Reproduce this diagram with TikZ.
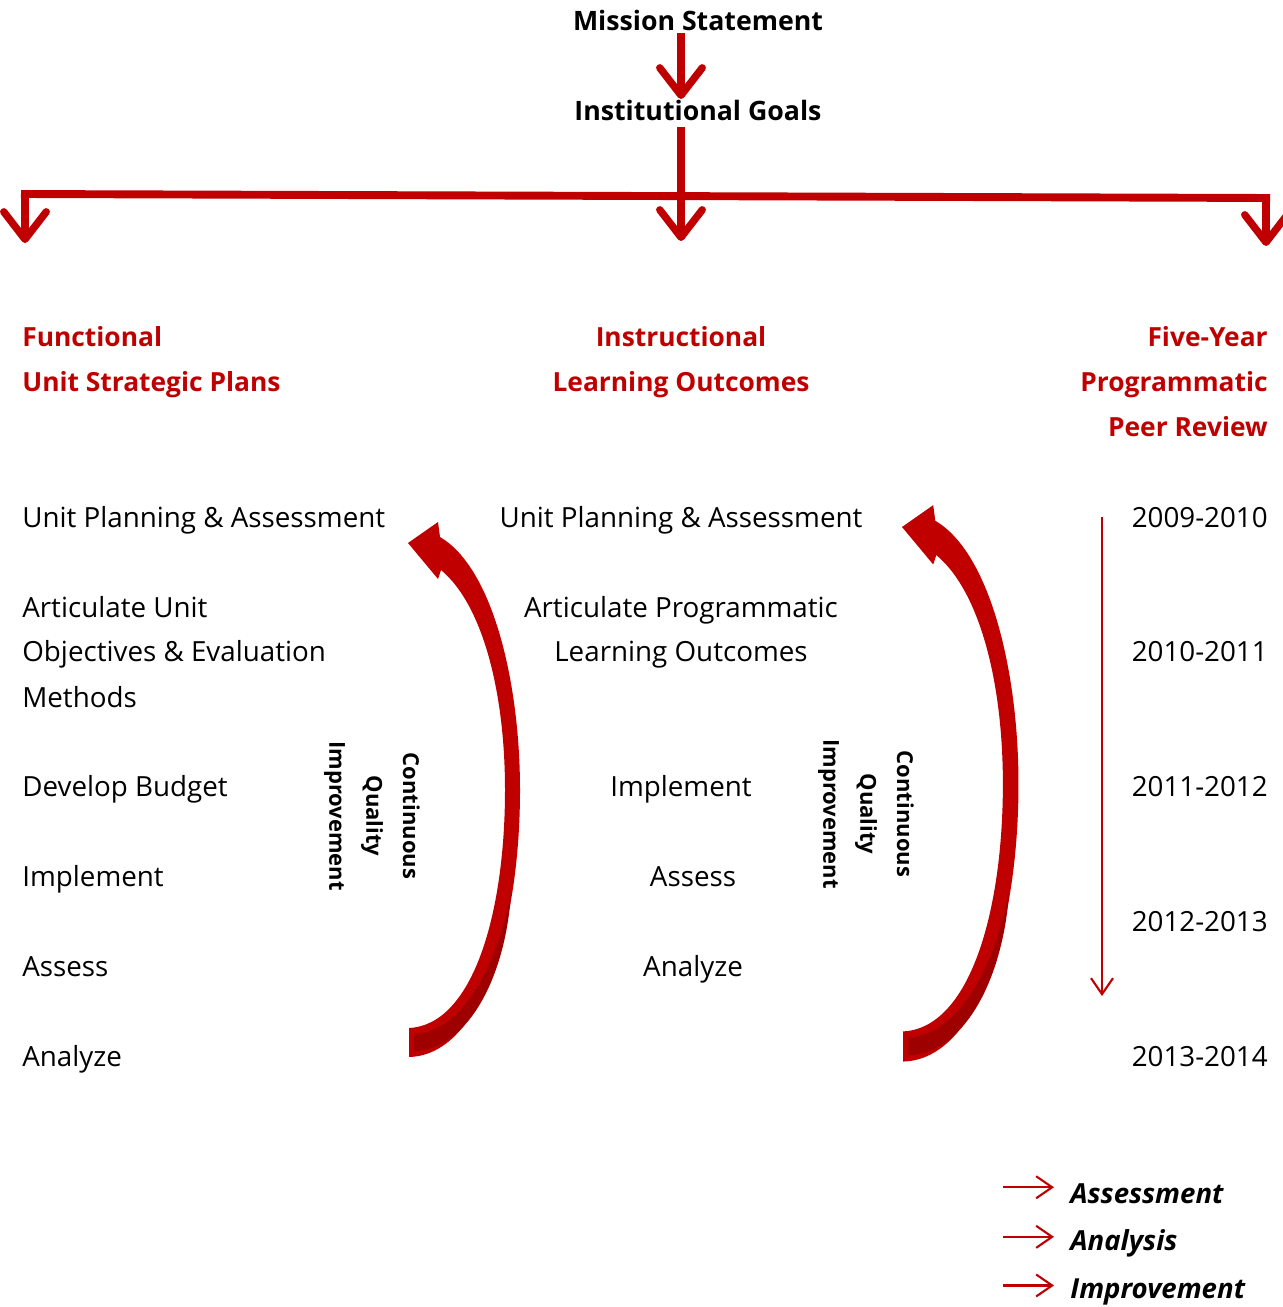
\documentclass[tikz,border=0pt]{standalone}
\usepackage{fontspec}
\setmainfont{Open Sans}
\usetikzlibrary{arrows.meta,positioning,calc}
\definecolor{PlanRed}{RGB}{192,0,0}
\definecolor{PlanDarkRed}{RGB}{158,0,0}

\tikzset{
  body/.style={inner sep=0pt, font=\fontsize{15.8}{18}\selectfont},
  head/.style={inner sep=0pt, font=\fontsize{15}{18}\selectfont\bfseries, PlanRed},
  top/.style={inner sep=0pt, font=\fontsize{15.2}{18}\selectfont\bfseries},
  legend/.style={inner sep=0pt, font=\fontsize{15.7}{18}\selectfont\bfseries\itshape},
  loop text/.style={inner sep=0pt, align=center, rotate=-90,
    font=\fontsize{12.5}{21}\selectfont\bfseries},
  stem/.style={PlanRed, line width=4.2pt},
  trunk/.style={stem, -{Straight Barb[length=5.5mm, width=8.5mm, round]}},
  bar/.style={PlanRed, line width=4.5pt},
  thin arrow/.style={PlanRed, line width=1.2pt, -{Straight Barb[length=3.2mm, width=4.4mm]}}
}

\begin{document}
\begin{tikzpicture}[x=0.02cm, y=-0.02cm]
  \useasboundingbox (0,0) rectangle (1282,1307);

  % Top of the tree
  \node[top, anchor=base] (ms) at (698,31) {Mission Statement};
  \node[top, anchor=base] (ig) at (698,121) {Institutional Goals};
  \coordinate (spine) at (681,0);
  \coordinate (goalTip) at (681,99);
  \draw[trunk] ([yshift=-1pt]ms.south -| spine) -- (goalTip);

  % Branches
  \coordinate (barL) at (25,194);
  \coordinate (barM) at (681,196);
  \coordinate (barR) at (1266,198);
  \coordinate (tipL) at (25,243);
  \coordinate (tipM) at (681,241);
  \coordinate (tipR) at (1266,246);
  \draw[stem] ([yshift=-3pt]ig.south -| spine) -- (barM);
  \draw[bar] (21,194) -- (1270,198);
  \draw[trunk] (barL) -- (tipL);
  \draw[trunk] (barM) -- (tipM);
  \draw[trunk] (barR) -- (tipR);

  % Column headers
  \node[head, anchor=base west] (fu1) at (22,346) {Functional};
  \node[head, anchor=base west] (fu2) at (22,391) {Unit Strategic Plans};
  \node[head, anchor=base] (il1) at (681,346) {Instructional};
  \node[head, anchor=base] (il2) at (681,391) {Learning Outcomes};
  \node[head, anchor=base east] (pr1) at (1268,346) {Five-Year};
  \node[head, anchor=base east] (pr2) at (1268,391) {Programmatic};
  \node[head, anchor=base east] (pr3) at (1268,436) {Peer Review};

  % Unit steps
  \foreach \n/\y/\txt in {1/527/Unit Planning \& Assessment, 2/617/Articulate Unit,
      3/661/Objectives \& Evaluation, 4/707/Methods, 5/796/Develop Budget,
      6/886/Implement, 7/976/Assess, 8/1066/Analyze}
    \node[body, anchor=base west] (us\n) at (22,\y) {\txt};

  % Learning outcome steps
  \foreach \n/\x/\y/\txt in {1/681/527/Unit Planning \& Assessment,
      2/681/617/Articulate Programmatic, 3/681/661/Learning Outcomes,
      4/681/796/Implement, 5/693/886/Assess, 6/693/976/Analyze}
    \node[body, anchor=base] (lo\n) at (\x,\y) {\txt};

  % Review years
  \foreach \n/\y/\txt in {1/527/2009-2010, 2/661/2010-2011, 3/796/2011-2012,
      4/931/2012-2013, 5/1066/2013-2014}
    \node[body, anchor=base east] (yr\n) at (1268,\y) {\txt};
  \coordinate (tlEnd) at (1102,996);
  \draw[thin arrow] (yr1.west -| tlEnd) -- (tlEnd);

  % Quality loops
  \foreach \sx/\sy/\sc in {408/543/1, 902/527/1.04} {
    \begin{scope}[shift={(\sx,\sy)}, scale=\sc]
      \fill[PlanRed] (0,0) -- (30,-21) -- (32,-6)
        .. controls (85,25) and (112,140) .. (112,247)
        .. controls (112,380) and (75,512) .. (1,514) -- (1,485)
        .. controls (65,482) and (97,370) .. (97,247)
        .. controls (97,150) and (75,62) .. (33,27) -- (30,36) -- cycle;
      \fill[PlanDarkRed] (6,491) .. controls (55,489) and (90,420) .. (103,350)
        .. controls (98,430) and (62,506) .. (6,508) -- cycle;
    \end{scope}
  }
  \node[loop text] (cq1) at (372,816) {Continuous\\Quality\\Improvement};
  \node[loop text] (cq2) at (866,814) {Continuous\\Quality\\Improvement};

  % Legend
  \node[legend, anchor=base west] (lg1) at (1070,1203) {Assessment};
  \node[legend, anchor=base west] (lg2) at (1070,1250) {Analysis};
  \node[legend, anchor=base west] (lg3) at (1070,1298) {Improvement};
  \foreach \n in {1,2,3}
    \draw[thin arrow] ($(lg\n.west)+(-67,-6)$) -- ($(lg\n.west)+(-16,-6)$);
\end{tikzpicture}
\end{document}
